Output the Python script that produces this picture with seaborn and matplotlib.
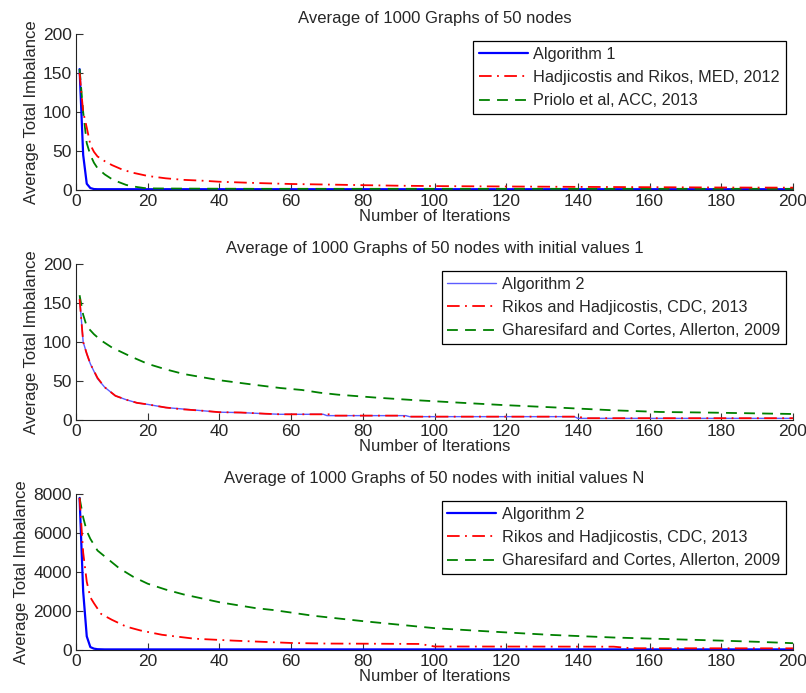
import matplotlib
matplotlib.use("Agg")
import matplotlib.pyplot as plt
import seaborn as sns
import pandas as pd

# ---------------- data ----------------
# Panel 1: Average of 1000 Graphs of 50 nodes
p1_alg1_x = [1, 2, 3, 4, 5, 6, 10, 20, 50, 100, 150, 200]
p1_alg1_y = [155, 45, 8, 2.5, 1.2, 1, 1, 1, 1, 1, 1, 1]
p1_med_x = [1, 2, 3, 4, 5, 6, 8, 10, 13, 16, 20, 25, 30, 35, 40, 50, 60, 70, 80, 90, 100, 120, 140, 160, 180, 200]
p1_med_y = [150, 100, 80, 58, 49, 43, 37, 32, 26, 22, 18, 15, 13, 12, 10.6, 9, 7.7, 7, 6.2, 5.5, 5, 4.5, 4, 3.6, 3.2, 3]
p1_acc_x = [1, 2, 3, 4, 5, 6, 8, 10, 12, 14, 16, 19, 22, 30, 50, 100, 150, 200]
p1_acc_y = [155, 100, 60, 45, 35, 28, 20, 14, 10, 6.5, 4.5, 2.5, 2, 1.8, 1.5, 1.5, 1.5, 1.5]

# Panel 2: initial values 1
p2_alg2_x = [1, 2, 3, 4, 6, 8, 11, 14, 17, 20, 25, 30, 35, 40, 46, 53, 57, 69, 70, 92, 93, 139, 140, 200]
p2_alg2_y = [157, 100, 85, 72, 53, 42, 31, 26, 22, 20, 16, 14, 12, 10, 9.5, 8, 7.3, 7.3, 5.6, 5.6, 4.3, 4.3, 2.1, 2.1]
p2_cdc_x = [1, 2, 3, 4, 6, 8, 11, 14, 17, 20, 25, 30, 35, 40, 46, 53, 57, 71, 72, 90, 92, 140, 142, 200]
p2_cdc_y = [155, 100, 85, 72, 54, 42, 31, 26, 22, 20, 16, 13.6, 12, 10, 9.6, 8, 7.3, 7.3, 5.6, 5.6, 4.3, 4.3, 2.3, 2.3]
p2_all_x = [1, 2, 3, 5, 7, 10, 15, 20, 25, 30, 40, 50, 57, 63, 68, 73, 84, 94, 107, 119, 135, 150, 163, 178, 200]
p2_all_y = [160, 135, 120, 110, 102, 93, 82, 72, 65, 59, 51, 45, 41, 38.5, 35, 32.5, 28.6, 25.6, 22.2, 19.2, 15.8, 12.4, 10.3, 9.4, 7.7]

# Panel 3: initial values N
p3_alg2_x = [1, 2, 3, 4, 5, 6, 8, 20, 50, 100, 150, 200]
p3_alg2_y = [7800, 3000, 700, 150, 70, 40, 30, 30, 30, 30, 30, 30]
p3_cdc_x = [1, 2, 3, 4, 5, 7, 10, 14, 18, 24, 33, 44, 56, 60, 70, 85, 96, 100, 130, 150, 155, 200]
p3_cdc_y = [7800, 5000, 3500, 2700, 2400, 1850, 1550, 1200, 1000, 780, 580, 480, 390, 360, 330, 320, 310, 180, 175, 170, 90, 85]
p3_all_x = [1, 2, 3, 4, 6, 8, 12, 16, 20, 25, 30, 35, 40, 45, 50, 55, 60, 66, 73, 80, 90, 100, 113, 125, 133, 150, 165, 180, 190, 200]
p3_all_y = [7800, 6800, 6100, 5700, 5100, 4800, 4200, 3750, 3400, 3100, 2850, 2650, 2450, 2300, 2150, 2050, 1920, 1760, 1620, 1480, 1300, 1120, 975, 850, 770, 640, 560, 480, 420, 350]

titles = ["Average of 1000 Graphs of 50 nodes",
          "Average of 1000 Graphs of 50 nodes with initial values 1",
          "Average of 1000 Graphs of 50 nodes with initial values N"]
labels1 = ["Algorithm 1", "Hadjicostis and Rikos, MED, 2012", "Priolo et al, ACC, 2013"]
labels2 = ["Algorithm 2", "Rikos and Hadjicostis, CDC, 2013", "Gharesifard and Cortes, Allerton, 2009"]
xlabel = "Number of Iterations"
ylabel = "Average Total Imbalance"
x_ticks = [0, 20, 40, 60, 80, 100, 120, 140, 160, 180, 200]
y_ticks_small = [0, 50, 100, 150, 200]
y_ticks_big = [0, 2000, 4000, 6000, 8000]

# ---------------- style ----------------
sns.set_theme(style="white")
plt.rcParams["font.family"] = ["Liberation Sans", "DejaVu Sans"]
plt.rcParams["font.size"] = 12

fig = plt.figure(figsize=(8.06, 6.93), dpi=100)
W, H = 806, 693
left, right = 76, 793
panel_px = [(34, 190), (264, 420), (494, 650)]
axes = []
for top, bot in panel_px:
    ax = fig.add_axes([left / W, 1 - bot / H, (right - left) / W, (bot - top) / H])
    axes.append(ax)

panels = [
    ([(p1_alg1_x, p1_alg1_y), (p1_med_x, p1_med_y), (p1_acc_x, p1_acc_y)], labels1, y_ticks_small, "#0000ff", 1.6),
    ([(p2_alg2_x, p2_alg2_y), (p2_cdc_x, p2_cdc_y), (p2_all_x, p2_all_y)], labels2, y_ticks_small, "#5c5cff", 1.0),
    ([(p3_alg2_x, p3_alg2_y), (p3_cdc_x, p3_cdc_y), (p3_all_x, p3_all_y)], labels2, y_ticks_big, "#0000ff", 1.6),
]

for ax, title, (series, labels, yt, bcol, blw) in zip(axes, titles, panels):
    styles = [
        dict(color=bcol, lw=blw, dashes=None, z=2),
        dict(color="#ff0000", lw=1.3, dashes=(7, 3, 1, 3), z=3),
        dict(color="#008000", lw=1.3, dashes=(6, 4), z=2.5),
    ]
    for (xs, ys), lab, st in zip(series, labels, styles):
        df = pd.DataFrame({"it": xs, "val": ys})
        line_ax = sns.lineplot(data=df, x="it", y="val", ax=ax, color=st["color"],
                               lw=st["lw"], label=lab, zorder=st["z"])
        ln = line_ax.get_lines()[-1]
        if st["dashes"] is not None:
            ln.set_dashes(st["dashes"])
    ax.set_xlim(0, 200)
    ax.set_ylim(yt[0], yt[-1])
    ax.set_xticks(x_ticks)
    ax.set_yticks(yt)
    ax.set_title(title, fontsize=12, pad=8)
    ax.set_xlabel(xlabel, fontsize=12, labelpad=0)
    ax.set_ylabel(ylabel, fontsize=12, labelpad=3)
    for s in ["top", "right"]:
        ax.spines[s].set_visible(False)
    for s in ["left", "bottom"]:
        ax.spines[s].set_color("#222222")
        ax.spines[s].set_linewidth(0.8)
    ax.tick_params(direction="in", length=5, width=0.8, color="#333333",
                   labelsize=12.5, pad=3, bottom=True, left=True)
    leg = ax.legend(loc="upper right", fontsize=11.7, frameon=True, fancybox=False,
                    edgecolor="black", framealpha=1, handlelength=3.0,
                    handletextpad=0.35, borderpad=0.35, labelspacing=0.5,
                    borderaxespad=0.45)
    leg.get_frame().set_linewidth(0.9)

fig.savefig("out.png", dpi=100)
